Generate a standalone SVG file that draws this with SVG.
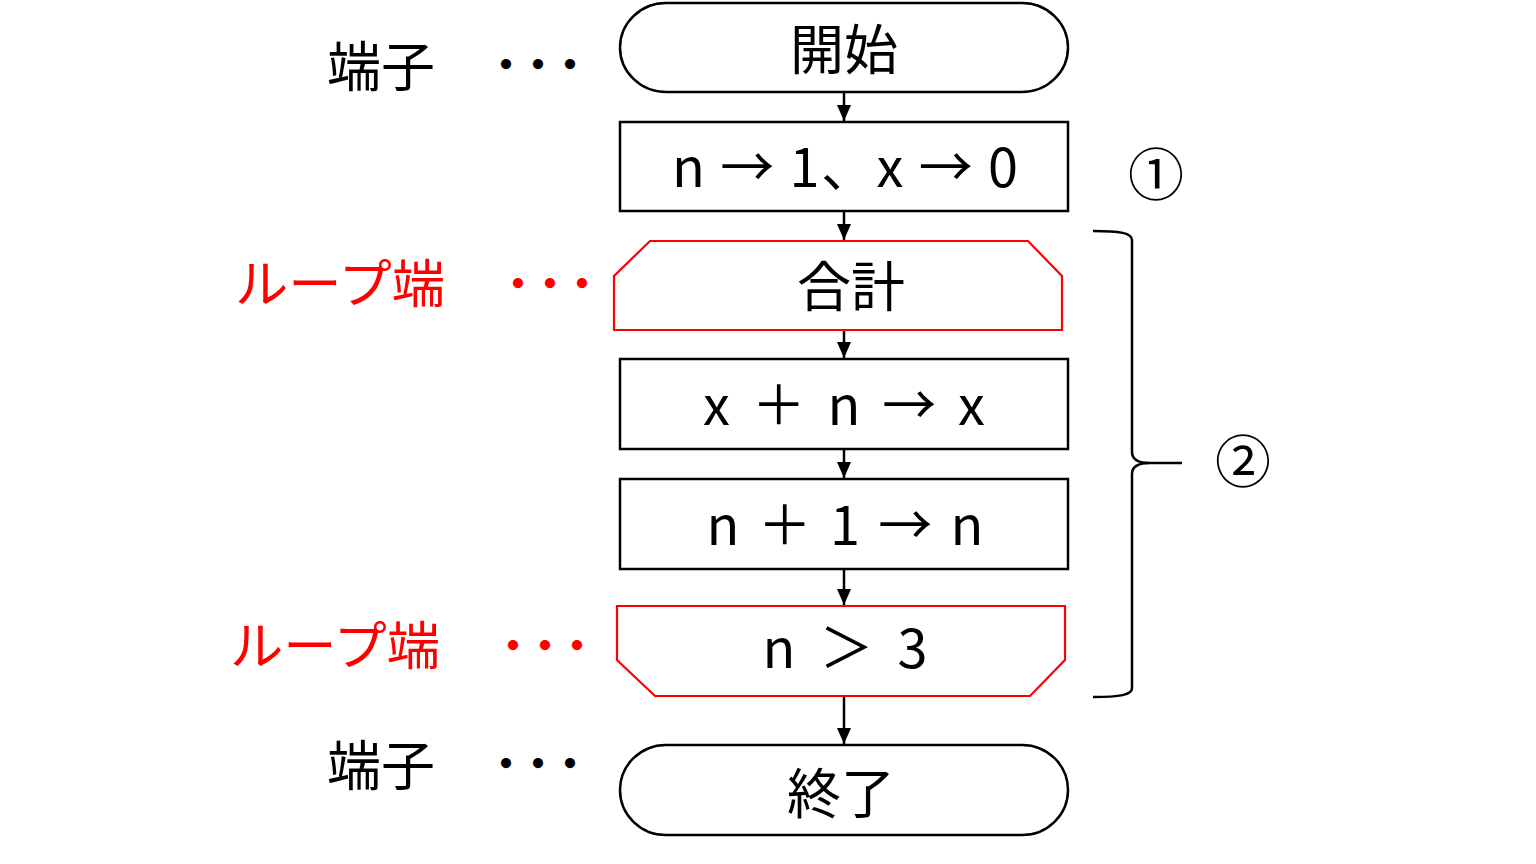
<svg xmlns="http://www.w3.org/2000/svg" width="1536" height="864" viewBox="0 0 1536 864">
<style>
.blk{fill:#fff;stroke:#000;stroke-width:2.5}
.red{fill:#fff;stroke:#ff0000;stroke-width:2.2}
.jp{font-family:"Noto Sans CJK JP","Noto Sans",sans-serif;font-size:54px;fill:#000;text-anchor:middle}
.lat{font-family:"Noto Sans CJK JP","Noto Sans",sans-serif;font-size:54px;fill:#000;text-anchor:middle}
.lbl{font-family:"Noto Sans CJK JP",sans-serif;font-size:54px;fill:#000;text-anchor:middle}
.rlbl{font-family:"Noto Sans CJK JP",sans-serif;font-size:52px;fill:#ff0000;text-anchor:middle}
.dots{font-family:"Noto Sans CJK JP",sans-serif;font-size:48px;fill:#000;text-anchor:middle;letter-spacing:-16px}
.rdots{font-family:"Noto Sans CJK JP",sans-serif;font-size:48px;fill:#ff0000;text-anchor:middle;letter-spacing:-16px}
.circ{font-family:"Noto Sans CJK JP",sans-serif;font-size:56px;fill:#000;text-anchor:middle}
.conn{stroke:#000;stroke-width:2.5;fill:none}
</style>
<defs>
<marker id="ah" viewBox="0 0 16 14" refX="16" refY="7" markerWidth="16" markerHeight="14" markerUnits="userSpaceOnUse" orient="auto">
<path d="M0,0 L16,7 L0,14 Z" fill="#000"/>
</marker>
</defs>
<rect width="1536" height="864" fill="#fff"/>

<g id="connectors">
<line class="conn" x1="844" y1="92" x2="844" y2="121" marker-end="url(#ah)"/>
<line class="conn" x1="844" y1="211" x2="844" y2="240" marker-end="url(#ah)"/>
<line class="conn" x1="844" y1="330" x2="844" y2="358" marker-end="url(#ah)"/>
<line class="conn" x1="844" y1="449" x2="844" y2="478" marker-end="url(#ah)"/>
<line class="conn" x1="844" y1="569" x2="844" y2="605" marker-end="url(#ah)"/>
<line class="conn" x1="844" y1="696" x2="844" y2="744" marker-end="url(#ah)"/>
</g>

<g id="start">
<rect class="blk" x="620" y="3" width="448" height="89" rx="46" ry="44.5"/>
<text class="jp" x="844" y="70">開始</text>
</g>

<g id="init">
<rect class="blk" x="620" y="122" width="448" height="89"/>
<text class="lat" x="845" y="187" textLength="346" lengthAdjust="spacing">n → 1、x → 0</text>
</g>

<g id="loopStart">
<polygon class="red" points="650,241 1028,241 1062,276 1062,330 614,330 614,276"/>
<text class="jp" x="851" y="307">合計</text>
</g>

<g id="add">
<rect class="blk" x="620" y="359" width="448" height="90"/>
<text class="lat" x="844" y="425" textLength="282" lengthAdjust="spacing">x ＋ n → x</text>
</g>

<g id="inc">
<rect class="blk" x="620" y="479" width="448" height="90"/>
<text class="lat" x="845" y="545" textLength="277" lengthAdjust="spacing">n ＋ 1 → n</text>
</g>

<g id="loopEnd">
<polygon class="red" points="617,606 1065,606 1065,660 1030,696 655,696 617,660"/>
<text class="lat" x="845" y="668" textLength="165" lengthAdjust="spacing">n ＞ 3</text>
</g>

<g id="end">
<rect class="blk" x="620" y="745" width="448" height="90" rx="46" ry="45"/>
<text class="jp" x="841" y="814">終了</text>
</g>

<g id="labels">
<text class="lbl" x="381" y="87">端子</text>
<text class="dots" x="530" y="82">・・・</text>
<text class="rlbl" x="340" y="303" textLength="210" lengthAdjust="spacingAndGlyphs">ループ端</text>
<text class="rdots" x="542" y="301">・・・</text>
<text class="rlbl" x="335" y="665" textLength="210" lengthAdjust="spacingAndGlyphs">ループ端</text>
<text class="rdots" x="537" y="663">・・・</text>
<text class="lbl" x="381" y="786">端子</text>
<text class="dots" x="530" y="781">・・・</text>
</g>

<g id="annotations">
<text class="circ" x="1156" y="195">①</text>
<path class="conn" d="M1093,231 C1120,231 1132,233 1132,240 V452 C1132,460 1140,463 1150,463 H1182 M1150,463 C1140,463 1132,466 1132,474 V688 C1132,695 1120,697 1093,697"/>
<text class="circ" x="1243" y="482">②</text>
</g>
</svg>
